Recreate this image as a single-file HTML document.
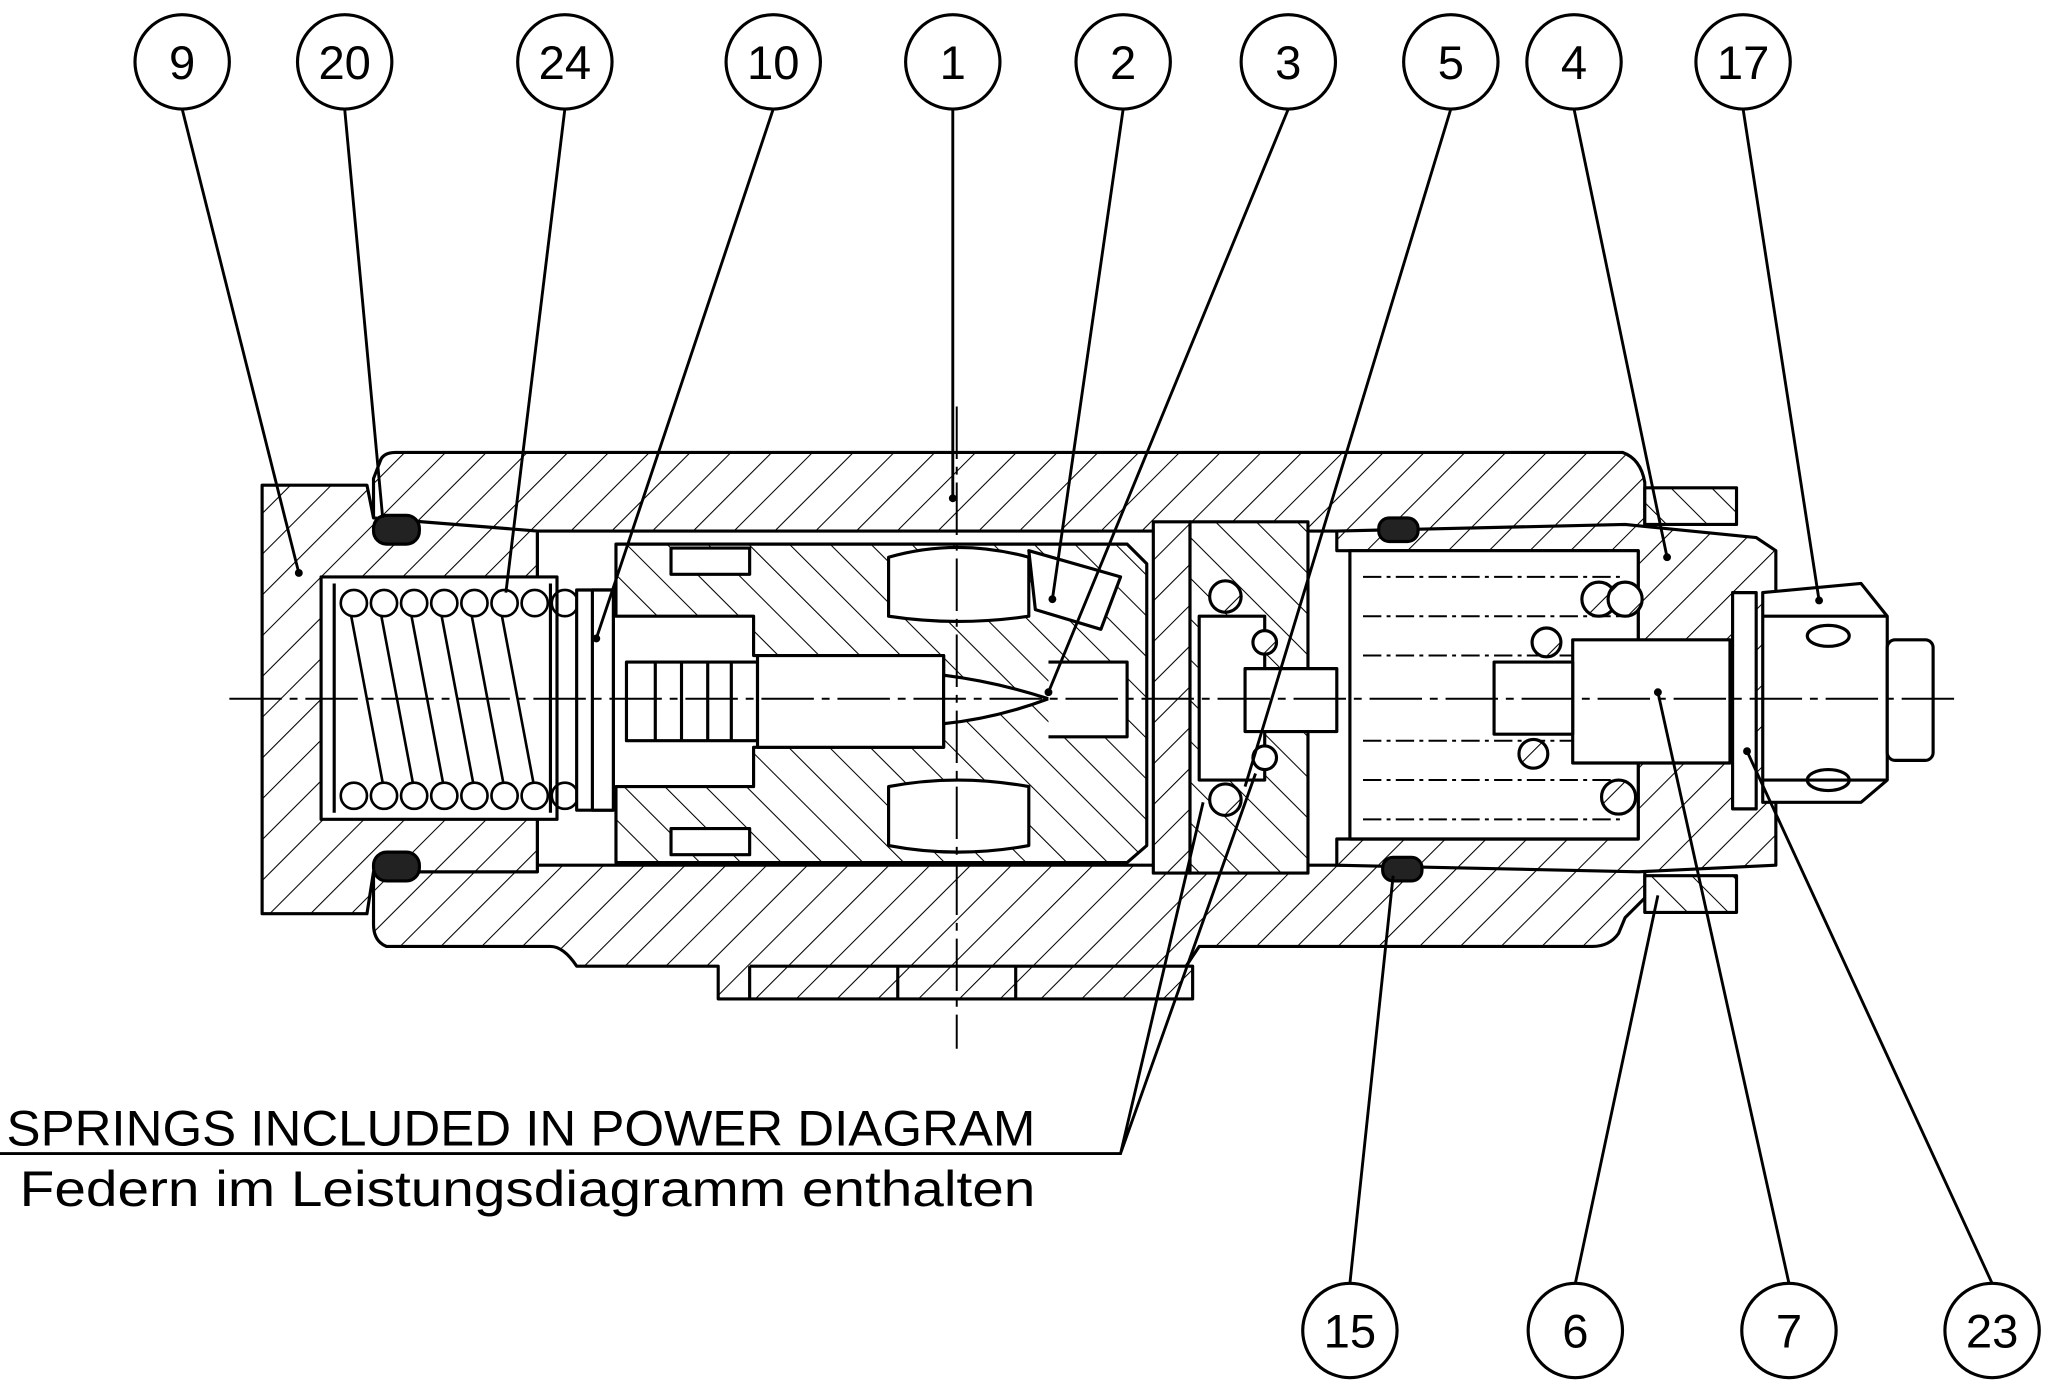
<!DOCTYPE html>
<html><head><meta charset="utf-8">
<style>
html,body{margin:0;padding:0;background:#fff;}
svg{display:block;}
text{font-family:"Liberation Sans",sans-serif;fill:#000;}
</style></head>
<body>
<svg width="2055" height="1391" viewBox="0 0 1568 1061" xmlns="http://www.w3.org/2000/svg">
<defs>
<pattern id="h" patternUnits="userSpaceOnUse" width="22" height="22" patternTransform="rotate(45)">
<rect width="22" height="22" fill="#fff"/><line x1="0" y1="0" x2="0" y2="22" stroke="#000" stroke-width="1.6"/></pattern>
<pattern id="h2" patternUnits="userSpaceOnUse" width="22" height="22" patternTransform="rotate(-45)">
<rect width="22" height="22" fill="#fff"/><line x1="0" y1="0" x2="0" y2="22" stroke="#000" stroke-width="1.6"/></pattern>
</defs>
<rect width="1568" height="1061" fill="#fff"/>
<g stroke="#000" stroke-width="2.4" fill="none" stroke-linejoin="round">
<!-- housing -->
<path fill="url(#h)" d="M290,352 Q292,345 302,345 L1238,345 Q1252,350 1255,368 L1255,685 L1240,700 L1235,712 Q1228,722 1215,722 L915,722 L905,737 L910,737 L910,762 L548,762 L548,737 L440,737 Q430,722 420,722 L295,722 Q285,718 285,705 L285,665 L410,665 L410,405 L285,405 L285,365 Z"/>
<rect x="410" y="405" width="630" height="255" fill="#fff"/>
<path d="M572,737 L572,762 M685,737 L685,762 M775,737 L775,762 M572,737 L905,737"/>
<!-- left cap 9 -->
<path fill="url(#h)" d="M200,370 L280,370 L285,395 L410,405 L410,665 L285,665 L280,697 L200,697 Z"/>
<rect x="245" y="440" width="180" height="185" fill="#fff"/>
<!-- springs left -->
<g fill="#fff">
<path d="M255,445 L255,620 M420,445 L420,620"/>
</g>
<g stroke-width="2">
<circle cx="270" cy="460" r="10"/><circle cx="293" cy="460" r="10"/><circle cx="316" cy="460" r="10"/><circle cx="339" cy="460" r="10"/><circle cx="362" cy="460" r="10"/><circle cx="385" cy="460" r="10"/><circle cx="408" cy="460" r="10"/><circle cx="431" cy="460" r="10"/>
<circle cx="270" cy="607" r="10"/><circle cx="293" cy="607" r="10"/><circle cx="316" cy="607" r="10"/><circle cx="339" cy="607" r="10"/><circle cx="362" cy="607" r="10"/><circle cx="385" cy="607" r="10"/><circle cx="408" cy="607" r="10"/><circle cx="431" cy="607" r="10"/>
<path d="M268,470 L292,597 M291,470 L315,597 M314,470 L338,597 M337,470 L361,597 M360,470 L384,597 M383,470 L407,597"/>
</g>
<!-- spring seat -->
<rect x="440" y="450" width="28" height="168" fill="#fff"/>
<rect x="452" y="450" width="16" height="168" fill="#fff"/>
<!-- spool body -->
<path fill="url(#h2)" d="M470,415 L860,415 L875,430 L875,645 L860,658 L470,658 L470,600 L575,600 L575,570 L720,570 L720,500 L575,500 L575,470 L470,470 Z"/>
<rect x="512" y="418" width="60" height="20" fill="#fff"/>
<rect x="512" y="632" width="60" height="20" fill="#fff"/>
<path fill="#fff" d="M678,425 Q730,410 785,425 L785,470 Q730,478 678,470 Z"/>
<path fill="#fff" d="M678,600 Q730,590 785,600 L785,645 Q730,655 678,645 Z"/>
<path fill="#fff" d="M785,420 L855,440 L840,480 L790,465 Z"/>
<!-- stem -->
<rect x="478" y="505" width="100" height="60" fill="#fff"/>
<path d="M500,505 L500,565 M520,505 L520,565 M540,505 L540,565 M558,505 L558,565"/>
<path fill="#fff" d="M578,500 L720,500 L720,570 L578,570 Z"/>
<path fill="#fff" d="M720,515 Q760,520 800,533 Q760,548 720,552 Z"/>
<path fill="#fff" d="M800,505 L860,505 L860,562 L800,562"/>
<!-- piston plate -->
<rect x="880" y="398" width="28" height="268" fill="url(#h)"/>
<rect x="908" y="398" width="90" height="268" fill="url(#h2)"/>
<rect x="915" y="470" width="50" height="125" fill="#fff"/>
<rect x="950" y="510" width="70" height="48" fill="#fff"/>
<circle cx="935" cy="455" r="12" fill="url(#h)"/><circle cx="935" cy="610" r="12" fill="url(#h)"/>
<circle cx="965" cy="490" r="9" fill="url(#h)"/><circle cx="965" cy="578" r="9" fill="url(#h)"/>
<!-- right part 4 -->
<path fill="url(#h)" d="M1020,405 L1240,400 L1340,410 L1355,420 L1355,660 L1250,665 L1020,660 L1020,640 L1250,640 L1250,420 L1020,420 Z"/>
<rect x="1030" y="420" width="220" height="220" fill="#fff"/>
<path stroke-width="1.5" stroke-dasharray="14 4 3 4" d="M1040,440 L1240,440 M1040,470 L1240,470 M1040,500 L1240,500 M1040,565 L1240,565 M1040,595 L1240,595 M1040,625 L1240,625"/>
<circle cx="1220" cy="457" r="13" fill="url(#h)"/><circle cx="1240" cy="457" r="13" fill="url(#h)"/>
<circle cx="1235" cy="608" r="13" fill="url(#h)"/><circle cx="1180" cy="490" r="11" fill="url(#h)"/><circle cx="1170" cy="575" r="11" fill="url(#h)"/>
<rect x="1200" y="488" width="120" height="94" fill="#fff"/>
<rect x="1140" y="505" width="60" height="55" fill="#fff"/>
<rect x="1322" y="452" width="18" height="165" fill="#fff"/>
<rect x="1255" y="372" width="70" height="28" fill="url(#h2)"/>
<rect x="1255" y="668" width="70" height="28" fill="url(#h2)"/>
<!-- nut 17 -->
<path fill="#fff" d="M1345,452 L1420,445 L1440,470 L1440,595 L1420,612 L1345,612 Z"/>
<path d="M1345,470 L1440,470 M1345,595 L1440,595"/>
<rect x="1440" y="488" width="35" height="92" fill="#fff" rx="6"/>
<ellipse cx="1395" cy="485" rx="16" ry="8"/><ellipse cx="1395" cy="595" rx="16" ry="8"/>
<!-- O-rings -->
<g fill="#222">
<rect x="285" y="393" width="35" height="22" rx="10"/>
<rect x="285" y="650" width="35" height="22" rx="10"/>
<rect x="1052" y="395" width="30" height="18" rx="8"/>
<rect x="1055" y="654" width="30" height="18" rx="8"/>
</g>
</g>
<!-- center lines -->
<g stroke="#000" stroke-width="1.5" stroke-dasharray="40 6 6 6" fill="none">
<path d="M175,533 L1495,533"/>
<path d="M730,310 L730,800"/>
</g>
<!-- leaders -->
<g stroke="#000" stroke-width="2.2" fill="none">
<path d="M139,83 L228,437"/><path d="M263,83 L292,395"/><path d="M431,83 L386,452"/>
<path d="M590,83 L455,487"/><path d="M727,83 L727,380"/><path d="M857,83 L803,457"/>
<path d="M983,83 L800,528"/><path d="M1107,83 L950,600"/><path d="M1201,83 L1272,425"/>
<path d="M1330,83 L1388,458"/><path d="M1030,979 L1063,668"/><path d="M1202,979 L1265,683"/>
<path d="M1365,979 L1265,528"/><path d="M1520,979 L1333,573"/>
<path d="M0,880 L855,880 L918,612 M855,880 L958,590"/>
</g>
<g fill="#000">
<circle cx="228" cy="437" r="3"/><circle cx="727" cy="380" r="3"/><circle cx="803" cy="457" r="3"/>
<circle cx="800" cy="528" r="3"/><circle cx="455" cy="487" r="3"/><circle cx="1272" cy="425" r="3"/>
<circle cx="1388" cy="458" r="3"/><circle cx="1265" cy="528" r="3"/><circle cx="1333" cy="573" r="3"/>
</g>
<!-- balloons -->
<g stroke="#000" stroke-width="2.4" fill="#fff">
<circle cx="139" cy="47" r="36"/><circle cx="263" cy="47" r="36"/><circle cx="431" cy="47" r="36"/>
<circle cx="590" cy="47" r="36"/><circle cx="727" cy="47" r="36"/><circle cx="857" cy="47" r="36"/>
<circle cx="983" cy="47" r="36"/><circle cx="1107" cy="47" r="36"/><circle cx="1201" cy="47" r="36"/>
<circle cx="1330" cy="47" r="36"/>
<circle cx="1030" cy="1015" r="36"/><circle cx="1202" cy="1015" r="36"/><circle cx="1365" cy="1015" r="36"/><circle cx="1520" cy="1015" r="36"/>
</g>
<g font-size="36" text-anchor="middle">
<text x="139" y="60">9</text><text x="263" y="60">20</text><text x="431" y="60">24</text>
<text x="590" y="60">10</text><text x="727" y="60">1</text><text x="857" y="60">2</text>
<text x="983" y="60">3</text><text x="1107" y="60">5</text><text x="1201" y="60">4</text>
<text x="1330" y="60">17</text>
<text x="1030" y="1028">15</text><text x="1202" y="1028">6</text><text x="1365" y="1028">7</text><text x="1520" y="1028">23</text>
</g>
<text x="5" y="874" font-size="38" textLength="785" lengthAdjust="spacingAndGlyphs">SPRINGS INCLUDED IN POWER DIAGRAM</text>
<text x="15" y="920" font-size="38" textLength="775" lengthAdjust="spacingAndGlyphs">Federn im Leistungsdiagramm enthalten</text>
</svg>
</body></html>
